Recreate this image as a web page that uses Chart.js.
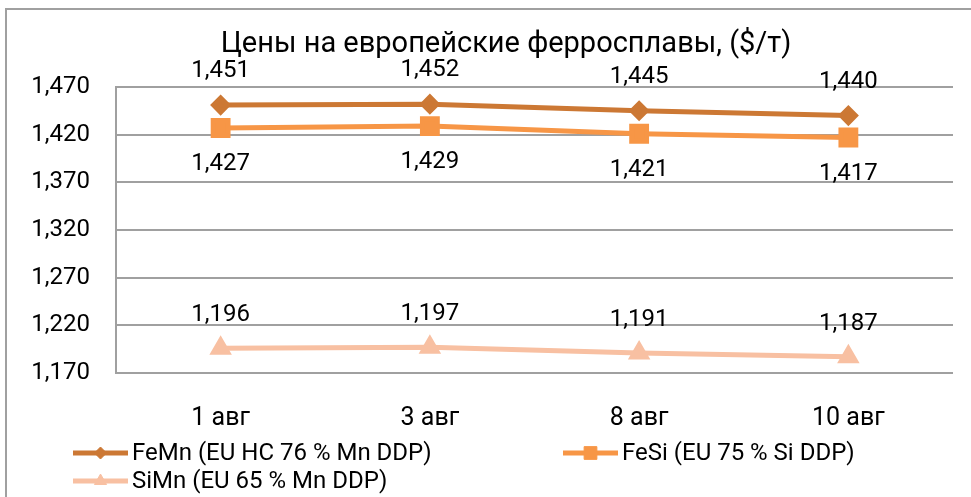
<!DOCTYPE html>
<html>
<head>
<meta charset="utf-8">
<script src="https://cdn.jsdelivr.net/npm/chart.js@4/dist/chart.umd.min.js"></script>
<style>
  html, body { margin: 0; padding: 0; background: #fff; }
  #wrap { width: 971px; height: 497px; }
</style>
</head>
<body>
<div id="wrap"><canvas id="ID_Ferro" width="971" height="497"></canvas></div>
<script>
// data
const dates = ['1 авг', '3 авг', '8 авг', '10 авг'];
const feMn = [1451, 1452, 1445, 1440];
const feSi = [1427, 1429, 1421, 1417];
const siMn = [1196, 1197, 1191, 1187];
const yTicks = [1170, 1220, 1270, 1320, 1370, 1420, 1470];
const chartTitle = 'Цены на европейские ферросплавы, ($/т)';

const FONT = 'Roboto, "DejaVu Sans", sans-serif';
const fmt = v => v.toLocaleString('en-US');

// frame round the whole chart + title (Excel puts it a bit right of centre)
const framePlugin = {
	id: 'frame',
	beforeDraw(chart) {
		const ctx = chart.ctx;
		ctx.save();
		ctx.fillStyle = '#fff';
		ctx.fillRect(0, 0, chart.width, chart.height);
		ctx.strokeStyle = '#a0a0a0';
		ctx.lineWidth = 2;
		ctx.strokeRect(6, 9, 1000, 600);
		ctx.fillStyle = '#000';
		ctx.font = '29px ' + FONT;
		ctx.textAlign = 'center';
		ctx.textBaseline = 'middle';
		ctx.fillText(chartTitle, 506, 45);
		ctx.restore();
	}
};

// value labels, above or below each point
const valueLabels = {
	id: 'valueLabels',
	afterDatasetsDraw(chart) {
		const ctx = chart.ctx;
		ctx.save();
		ctx.font = '24px ' + FONT;
		ctx.fillStyle = '#000';
		ctx.textAlign = 'center';
		ctx.textBaseline = 'middle';
		chart.data.datasets.forEach((ds, i) => {
			chart.getDatasetMeta(i).data.forEach((pt, j) => {
				ctx.fillText(fmt(ds.data[j]), pt.x, pt.y + ds.labelOffset);
			});
		});
		ctx.restore();
	}
};

// legend laid out in two columns like the original
const gridLegend = {
	id: 'gridLegend',
	afterDraw(chart) {
		const ctx = chart.ctx;
		const slots = [[73, 453], [563, 453], [73, 481]];
		ctx.save();
		ctx.font = '24px ' + FONT;
		ctx.textBaseline = 'middle';
		chart.data.datasets.forEach((ds, i) => {
			const [x, y] = slots[i];
			ctx.strokeStyle = ds.borderColor;
			ctx.fillStyle = ds.borderColor;
			ctx.lineWidth = ds.borderWidth;
			ctx.beginPath();
			ctx.moveTo(x, y);
			ctx.lineTo(x + 55, y);
			ctx.stroke();
			ctx.lineWidth = 1;
			Chart.helpers.drawPoint(ctx, {
				pointStyle: ds.pointStyle,
				radius: ds.legendRadius,
				borderWidth: 1
			}, x + 27.5, y);
			ctx.fillStyle = '#000';
			ctx.fillText(ds.label, x + 59, y + 1);
		});
		ctx.restore();
	}
};

function series(label, data, color, style, radius, legendRadius, offset) {
	return {
		label: label,
		data: data,
		borderColor: color,
		backgroundColor: color,
		pointBackgroundColor: color,
		pointBorderColor: color,
		borderWidth: 5,
		pointStyle: style,
		pointRadius: radius,
		pointHoverRadius: radius,
		legendRadius: legendRadius,
		tension: 0,
		labelOffset: offset
	};
}

new Chart(document.getElementById('ID_Ferro'), {
	type: 'line',
	plugins: [framePlugin, valueLabels, gridLegend],
	data: {
		labels: dates,
		datasets: [
			series('FeMn (EU HC 76 % Mn DDP)', feMn, '#CC7834', 'rectRot', 7, 6, -34),
			series('FeSi (EU 75 % Si DDP)', feSi, '#F79646', 'rect', 10.5, 9, 36),
			series('SiMn (EU 65 % Mn DDP)', siMn, '#F8C0A2', 'triangle', 8, 7, -33)
		]
	},
	options: {
		responsive: false,
		animation: false,
		layout: { padding: { left: 0, right: 18, top: 87, bottom: 54 } },
		plugins: {
			legend: { display: false },
			tooltip: { enabled: false },
			title: { display: false }
		},
		scales: {
			x: {
				offset: true,
				grid: { display: false, drawTicks: false },
				border: { display: false },
				ticks: { color: '#000', padding: 31, font: { family: FONT, size: 25 } },
				afterFit: s => { s.height = 70; }
			},
			y: {
				min: yTicks[0],
				max: yTicks[yTicks.length - 1],
				afterBuildTicks: s => { s.ticks = yTicks.map(v => ({ value: v })); },
				grid: { color: '#a0a0a0', lineWidth: 2, drawTicks: false },
				border: { display: true, color: '#a0a0a0', width: 2 },
				ticks: {
					color: '#000',
					padding: 26,
					font: { family: FONT, size: 24 },
					callback: v => fmt(v)
				},
				afterFit: s => { s.width = 116; }
			}
		}
	}
});
</script>
</body>
</html>
